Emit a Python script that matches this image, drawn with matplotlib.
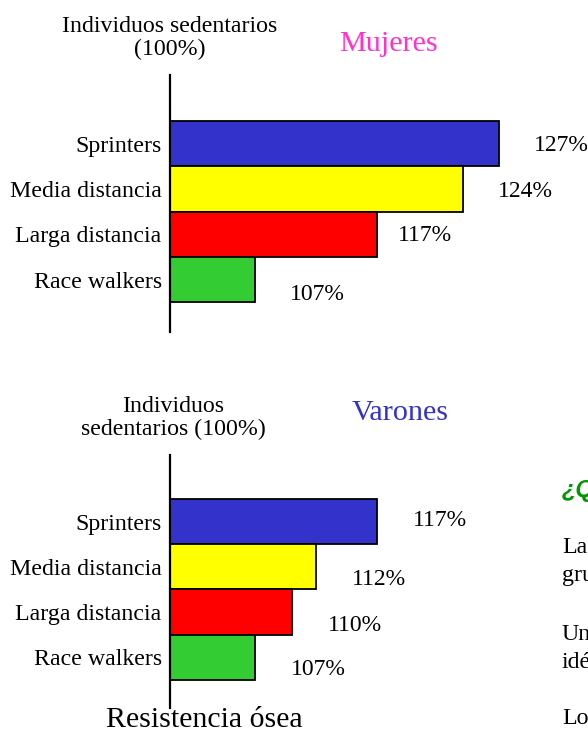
import matplotlib.pyplot as plt

# data
categories = ['Sprinters', 'Media distancia', 'Larga distancia', 'Race walkers']
mujeres = [127, 124, 117, 107]
varones = [117, 112, 110, 107]
bar_colors = ['#3333CC', '#FFFF00', '#FF0000', '#33CC33']

W, H = 588, 733
plt.rcParams['font.family'] = ['Liberation Serif', 'DejaVu Serif']

fig = plt.figure(figsize=(W / 100, H / 100), dpi=100)


def px(x, y):
    # pixel coords (top-left origin) -> figure fraction
    return x / W, 1 - y / H


def panel(top, bottom, ylim, values, label_dy, label_dx):
    ax = fig.add_axes([170 / W, 1 - bottom / H, (W - 170) / W, (bottom - top) / H])
    ys = range(len(values))
    ax.barh(ys, [v - 100 for v in values], left=100, height=1.0,
            color=bar_colors, edgecolor='black', linewidth=1.3)
    ax.set_xlim(100, 100 + (W - 170) / 12.2)
    ax.set_ylim(*ylim)
    for s in ['top', 'right', 'bottom']:
        ax.spines[s].set_visible(False)
    ax.spines['left'].set_linewidth(1.6)
    ax.set_xticks([])
    ax.set_yticks(list(ys))
    ax.set_yticklabels(categories, fontsize=17.2)
    ax.tick_params(axis='y', length=0, pad=6)
    for i, v in enumerate(values):
        ax.annotate(f'{v}%', (v, i), xytext=(label_dx[i], -label_dy[i]),
                    textcoords='offset pixels', ha='left', va='center',
                    fontsize=17, annotation_clip=False)
    return ax


panel(75, 332, (4.16, -1.52), mujeres, [2, 2, 1, 15], [35, 35, 21, 35])
panel(455, 708, (4.12, -1.47), varones, [-1, 13, 13, 12], [36, 36, 36, 36])

fig.text(*px(170, 38), 'Individuos sedentarios\n(100%)', ha='center', va='center',
         fontsize=17.2, linespacing=1.1)
fig.text(*px(388, 44), 'Mujeres', ha='center', va='center', fontsize=21.7, color='#FF33CC')

fig.text(*px(173, 418), 'Individuos\nsedentarios (100%)', ha='center', va='center',
         fontsize=17.2, linespacing=1.1)
fig.text(*px(400, 413), 'Varones', ha='center', va='center', fontsize=21.7, color='#3333CC')

fig.text(*px(204, 720), 'Resistencia ósea', ha='center', va='center', fontsize=21.5)

# cut-off text at right edge
fig.text(*px(562, 490), '¿Q', ha='left', va='center', fontsize=17, color='#009900',
         family='Liberation Sans', weight='bold', style='italic')
for txt, yb in [('La', 553), ('gru', 581), ('Un', 640), ('idé', 668), ('Lo', 724)]:
    fig.text(*px(562, yb), txt, ha='left', va='baseline', fontsize=17.2)

fig.savefig('out.png', dpi=100)
